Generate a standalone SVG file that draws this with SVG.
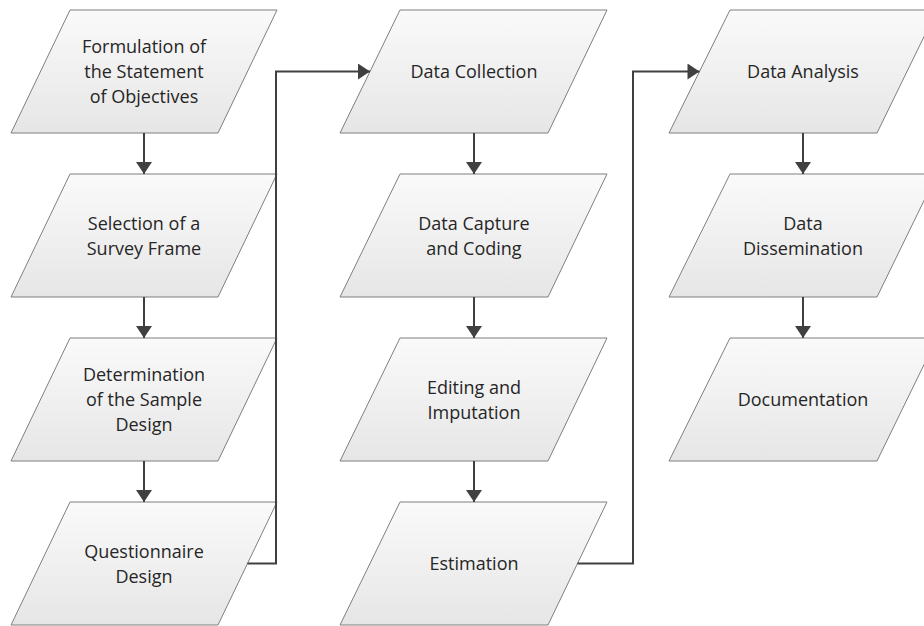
<svg xmlns="http://www.w3.org/2000/svg" width="924" height="626" viewBox="0 0 924 626">
<defs>
<linearGradient id="g" x1="0" y1="0" x2="0" y2="1">
<stop offset="0" stop-color="#fafafa"/>
<stop offset="1" stop-color="#e6e6e6"/>
</linearGradient>
<marker id="ah" markerUnits="userSpaceOnUse" markerWidth="16" markerHeight="16" viewBox="0 0 12 16" refX="12" refY="8" orient="auto">
<path d="M0,0 L12,8 L0,16 Z" fill="#404040"/>
</marker>
<style>
.s{fill:url(#g);stroke:#7f7f7f;stroke-width:1}
.t{font-family:"Open Sans","Liberation Sans",sans-serif;font-size:18px;fill:#262626;text-anchor:middle}
.c{fill:none;stroke:#404040;stroke-width:2;marker-end:url(#ah)}
</style>
</defs>
<g id="n1"><path class="s" d="M70,10H277L218,133H11Z"/><text class="t" x="144" y="53">Formulation of</text><text class="t" x="144" y="78">the Statement</text><text class="t" x="144" y="103">of Objectives</text></g>
<g id="n2"><path class="s" d="M70,174H277L218,297H11Z"/><text class="t" x="144" y="229.5">Selection of a</text><text class="t" x="144" y="254.5">Survey Frame</text></g>
<g id="n3"><path class="s" d="M70,338H277L218,461H11Z"/><text class="t" x="144" y="381">Determination</text><text class="t" x="144" y="406">of the Sample</text><text class="t" x="144" y="431">Design</text></g>
<g id="n4"><path class="s" d="M70,502H277L218,625H11Z"/><text class="t" x="144" y="557.5">Questionnaire</text><text class="t" x="144" y="582.5">Design</text></g>
<g id="n5"><path class="s" d="M400,10H607L548,133H340Z"/><text class="t" x="474" y="78">Data Collection</text></g>
<g id="n6"><path class="s" d="M400,174H607L548,297H340Z"/><text class="t" x="474" y="229.5">Data Capture</text><text class="t" x="474" y="254.5">and Coding</text></g>
<g id="n7"><path class="s" d="M400,338H607L548,461H340Z"/><text class="t" x="474" y="393.5">Editing and</text><text class="t" x="474" y="418.5">Imputation</text></g>
<g id="n8"><path class="s" d="M400,502H607L548,625H340Z"/><text class="t" x="474" y="570">Estimation</text></g>
<g id="n9"><path class="s" d="M730,10H937L877,133H669Z"/><text class="t" x="803" y="78">Data Analysis</text></g>
<g id="n10"><path class="s" d="M730,174H937L877,297H669Z"/><text class="t" x="803" y="229.5">Data</text><text class="t" x="803" y="254.5">Dissemination</text></g>
<g id="n11"><path class="s" d="M730,338H937L877,461H669Z"/><text class="t" x="803" y="406">Documentation</text></g>
<g id="connectors">
<path class="c" d="M144,133V174"/>
<path class="c" d="M144,297V338"/>
<path class="c" d="M144,461V502"/>
<path class="c" d="M474,133V174"/>
<path class="c" d="M474,297V338"/>
<path class="c" d="M474,461V502"/>
<path class="c" d="M803,133V174"/>
<path class="c" d="M803,297V338"/>
<path class="c" d="M247.5,563.5H276V71.5H370"/>
<path class="c" d="M577.5,563.5H633V71.5H699.5"/>
</g>
</svg>
